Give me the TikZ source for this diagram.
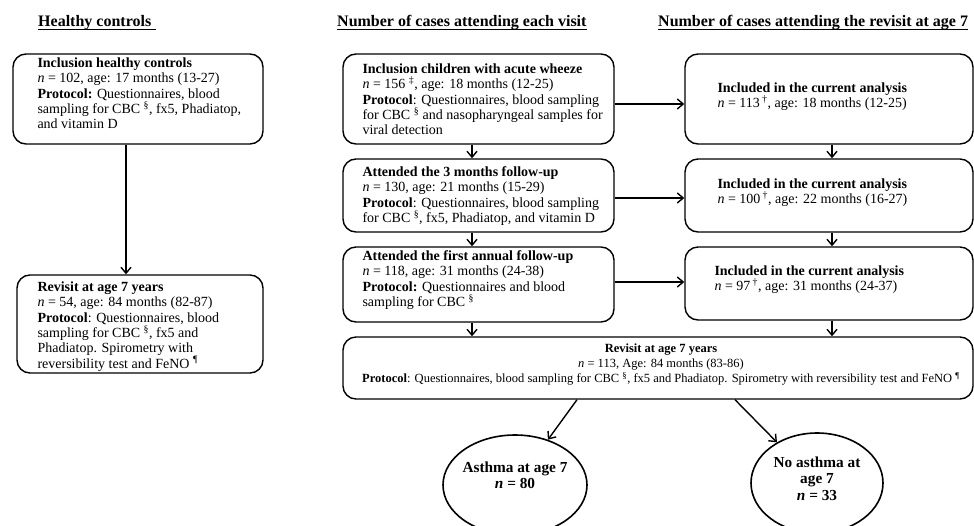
\documentclass[tikz,border=0pt]{standalone}
\usepackage{fontspec}
\setmainfont{Liberation Serif}
\usetikzlibrary{arrows.meta,shapes.geometric,calc}
\begin{document}
\begin{tikzpicture}[x=1pt,y=-1pt,
  box/.style={draw,rounded corners=13pt,line width=1.4pt,inner sep=0pt},
  txt/.style={anchor=north west,align=left,inner sep=0pt,font=\fontsize{14}{15.3}\selectfont},
  ctxt/.style={anchor=north,align=center,inner sep=0pt,font=\fontsize{12.5}{15}\selectfont},
  hdr/.style={anchor=base west,inner sep=0pt,font=\fontsize{16}{18}\selectfont\bfseries},
  arr/.style={line width=1.4pt,-{Straight Barb[length=6pt,width=10pt,line width=1.4pt]}},
  oval/.style={draw,ellipse,line width=1.6pt,inner sep=0pt},
  otxt/.style={anchor=north,align=center,inner sep=0pt,font=\fontsize{15.3}{16.5}\selectfont\bfseries}]
\useasboundingbox (0,0) rectangle (974,525);
\clip (0,0) rectangle (974,525);

% headers
\node[hdr] (h1) at (38,26) {Healthy controls};
\node[hdr] (h2) at (337,26) {Number of cases attending each visit};
\node[hdr] (h3) at (658,26) {Number of cases attending the revisit at age 7};
\draw[line width=1pt] ([yshift=-3pt]h1.base west) -- ([xshift=5pt,yshift=-3pt]h1.base east);
\draw[line width=1pt] ([yshift=-3pt]h2.base west) -- ([yshift=-3pt]h2.base east);
\draw[line width=1pt] ([yshift=-3pt]h3.base west) -- ([yshift=-3pt]h3.base east);

% boxes
\node[box,minimum width=250pt,minimum height=90pt] (hc1) at (138,99) {};
\node[box,minimum width=246pt,minimum height=98pt] (hc2) at (140,324) {};
\node[box,minimum width=271pt,minimum height=90pt] (a1) at (478.5,99) {};
\node[box,minimum width=271pt,minimum height=73pt] (a2) at (478.5,195.5) {};
\node[box,minimum width=271pt,minimum height=75pt] (a3) at (478.5,284.5) {};
\node[box,minimum width=288pt,minimum height=90pt] (b1) at (829,99) {};
\node[box,minimum width=288pt,minimum height=73pt] (b2) at (829,195.5) {};
\node[box,minimum width=288pt,minimum height=73pt] (b3) at (829,283.5) {};
\node[box,minimum width=630pt,minimum height=62pt] (c) at (658,368) {};
\node[oval,minimum width=144pt,minimum height=100pt] (el) at (515,485) {};
\node[oval,minimum width=132pt,minimum height=100pt] (er) at (817,483) {};

% texts
\node[txt] (hc1t) at ($(hc1.north west)+(25,4.3)$) {\textbf{Inclusion healthy controls}\\
\textit{n} = 102, age: 17 months (13-27)\\
\textbf{Protocol:} Questionnaires, blood\\
sampling for CBC \textsuperscript{\S}, fx5, Phadiatop,\\
and vitamin D};
\node[txt] (hc2t) at ($(hc2.north west)+(21,7.3)$) {\textbf{Revisit at age 7 years}\\
\textit{n} = 54, age: 84 months (82-87)\\
\textbf{Protocol}: Questionnaires, blood\\
sampling for CBC \textsuperscript{\S}, fx5 and\\
Phadiatop. Spirometry with\\
reversibility test and FeNO \textsuperscript{\P}};
\node[txt] (a1t) at ($(a1.north west)+(20,10.3)$) {\textbf{Inclusion children with acute wheeze}\\
\textit{n} = 156 \textsuperscript{\textdaggerdbl}, age: 18 months (12-25)\\
\textbf{Protocol}: Questionnaires, blood sampling\\
for CBC \textsuperscript{\S} and nasopharyngeal samples for\\
viral detection};
\node[txt] (a2t) at ($(a2.north west)+(20,8.3)$) {\textbf{Attended the 3 months follow-up}\\
\textit{n} = 130, age: 21 months (15-29)\\
\textbf{Protocol}: Questionnaires, blood sampling\\
for CBC \textsuperscript{\S}, fx5, Phadiatop, and vitamin D};
\node[txt] (a3t) at ($(a3.north west)+(20,4.3)$) {\textbf{Attended the first annual follow-up}\\
\textit{n} = 118, age: 31 months (24-38)\\
\textbf{Protocol:} Questionnaires and blood\\
sampling for CBC \textsuperscript{\S}};
\node[txt] (b1t) at ($(b1.north west)+(33,29.3)$) {\textbf{Included in the current analysis}\\
\textit{n} = 113\,\textsuperscript{\textdagger}, age: 18 months (12-25)};
\node[txt] (b2t) at ($(b2.north west)+(33,20.3)$) {\textbf{Included in the current analysis}\\
\textit{n} = 100\,\textsuperscript{\textdagger}, age: 22 months (16-27)};
\node[txt] (b3t) at ($(b3.north west)+(30,19.3)$) {\textbf{Included in the current analysis}\\
\textit{n} = 97\,\textsuperscript{\textdagger}, age: 31 months (24-37)};
\node[ctxt] (ct) at ($(c.north)+(3,7.3)$) {\textbf{Revisit at age 7 years}\\
\textit{n} = 113, Age: 84 months (83-86)\\
\textbf{Protocol}: Questionnaires, blood sampling for CBC \textsuperscript{\S}, fx5 and Phadiatop. Spirometry with reversibility test and FeNO \textsuperscript{\P}};
\node[otxt] (elt) at ($(el.center)+(0,-23.5)$) {Asthma at age 7\\\textit{n} = 80};
\node[otxt] (ert) at ($(er.center)+(0,-26.5)$) {No asthma at\\age 7\\\textit{n} = 33};

% connectors
\coordinate (hcA) at ($(hc1.south)+(-12,0)$);
\draw[arr] (hcA) -- (hcA |- hc2.north);
\coordinate (aA) at ($(a1.south)+(-6.5,0)$);
\draw[arr] (aA) -- (aA |- a2.north);
\draw[arr] (aA |- a2.south) -- (aA |- a3.north);
\draw[arr] (aA |- a3.south) -- (aA |- c.north);
\coordinate (bA) at ($(b1.south)+(3,0)$);
\draw[arr] (bA) -- (bA |- b2.north);
\draw[arr] (bA |- b2.south) -- (bA |- b3.north);
\draw[arr] (bA |- b3.south) -- (bA |- c.north);
\coordinate (r1) at ($(a1.east)+(0,5)$);
\draw[arr] (r1) -- (r1 -| b1.west);
\coordinate (r2) at ($(a2.east)+(0,2.5)$);
\draw[arr] (r2) -- (r2 -| b2.west);
\coordinate (r3) at ($(a3.east)+(0,-2.5)$);
\draw[arr] (r3) -- (r3 -| b3.west);
\coordinate (cl) at ($(c.south)+(-81,0)$);
\coordinate (cr) at ($(c.south)+(77,0)$);
\draw[arr] (cl) -- (el);
\draw[arr] (cr) -- (er);
\end{tikzpicture}
\end{document}
